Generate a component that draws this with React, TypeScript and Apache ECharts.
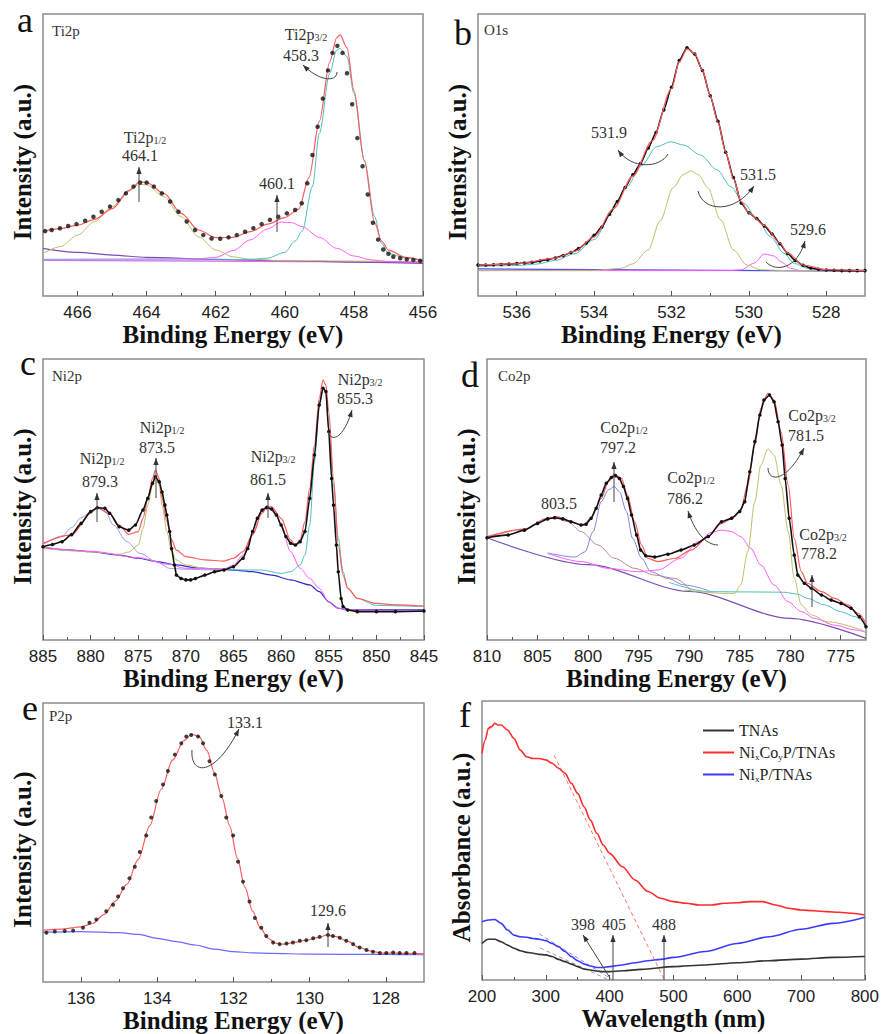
import React, { useEffect, useRef } from "react";
import * as echarts from "echarts";

type P = [number, number];

// ---------- tick values ----------
const aTicks = [456, 458, 460, 462, 464, 466];
const aMinor = [457, 459, 461, 463, 465];
const bTicks = [528, 530, 532, 534, 536];
const bMinor = [529, 531, 533, 535];
const cTicks = [845, 850, 855, 860, 865, 870, 875, 880, 885];
const cMinor = [847.5, 852.5, 857.5, 862.5, 867.5, 872.5, 877.5, 882.5];
const dTicks = [775, 780, 785, 790, 795, 800, 805, 810];
const dMinor = [777.5, 782.5, 787.5, 792.5, 797.5, 802.5, 807.5];
const eTicks = [128, 130, 132, 134, 136];
const eMinor = [129, 131, 133, 135];
const fTicks = [200, 300, 400, 500, 600, 700, 800];
const fMinor = [250, 350, 450, 550, 650, 750];

// ---------- panel a : Ti2p ----------
const aData: P[] = [[466.94,23.0],[466.75,23.4],[466.51,24.0],[466.27,24.8],[466.03,25.5],[465.78,26.7],[465.54,28.1],[465.30,29.9],[465.06,31.7],[464.82,34.0],[464.60,36.4],[464.38,38.8],[464.19,40.2],[464.00,40.2],[463.79,38.8],[463.56,36.4],[463.32,33.5],[463.08,29.9],[462.84,26.4],[462.60,23.4],[462.36,21.6],[462.12,20.4],[461.87,20.3],[461.63,20.8],[461.39,21.6],[461.15,22.8],[460.91,24.0],[460.67,25.5],[460.43,27.0],[460.19,28.1],[459.94,29.3],[459.70,30.5],[459.51,32.9],[459.35,40.0],[459.2,50.0],[459.05,60.0],[458.9,70.0],[458.75,80.0],[458.62,86.2],[458.48,88.7],[458.33,86.2],[458.2,79.0],[458.05,68.0],[457.9,56.0],[457.75,46.0],[457.6,36.0],[457.45,26.0],[457.3,20.0],[457.15,16.5],[457.0,15.0],[456.86,13.9],[456.66,13.4],[456.47,13.0],[456.28,12.8],[456.08,12.5]];
const aFit: P[] = [[467,23.0],[466.5,23.9],[466,25.1],[465.5,27.2],[465,30.9],[464.5,37.4],[464.2,40.5],[464,40.2],[463.5,36.4],[463,29.3],[462.5,23.4],[462,20.7],[461.5,20.8],[461,22.8],[460.5,25.5],[460,27.8],[459.6,30.8],[459.3,42],[459,62],[458.7,83],[458.5,91.5],[458.4,92.6],[458.2,88],[458,73],[457.7,48],[457.4,26],[457.2,19.5],[457,16.3],[456.5,13.7],[456,12.5]];
const aCyan: P[] = [[467,12.8],[462,12.8],[461,13.0],[460.5,13.4],[460,15.5],[459.7,19.5],[459.5,23],[459.2,38.8],[459,57.7],[458.7,79],[458.5,87.2],[458.4,87.8],[458.2,84.9],[458,71.9],[457.7,48.2],[457.4,28.1],[457.2,18.7],[457,15.1],[456.5,13.4],[456,12.5]];
const aOlive: P[] = [[467,15.1],[466.5,17.5],[466,21.6],[465.5,26.4],[465,31.7],[464.5,37.6],[464.2,39.6],[464,39.4],[463.5,35.2],[463,28.1],[462.5,21.0],[462,16.3],[461.5,13.9],[461,13.0],[460,12.5],[456,12.2]];
const aMag: P[] = [[467,13.0],[462.5,13.2],[462,13.7],[461.5,16.1],[461,19.9],[460.5,23.8],[460.1,26.2],[459.8,26.0],[459.5,24.6],[459,20.8],[458.5,16.9],[458,14.2],[457.5,12.8],[457,12.2],[456,11.9]];
const aBg: P[] = [[467,16.9],[466,15.5],[465,14.5],[464,13.7],[462,13.0],[460,12.5],[458,12.0],[456,11.6]];
const aBase: P[] = [[467,12.6],[456,12.0]];

// ---------- panel b : O1s ----------
const bData: P[] = [[537,11.0],[536.8,11.0],[536.6,11.1],[536.4,11.2],[536.2,11.3],[536,11.5],[535.8,11.7],[535.6,12.0],[535.4,12.4],[535.2,12.9],[535,13.5],[534.8,14.3],[534.6,15.4],[534.4,16.8],[534.2,18.8],[534,21.5],[533.8,24.5],[533.6,29.0],[533.4,33.5],[533.2,38.5],[533,43.0],[532.8,47.0],[532.6,52.5],[532.4,58.0],[532.2,66.0],[532,74.0],[531.8,83.5],[531.6,88.0],[531.4,85.8],[531.2,80.0],[531,71.0],[530.8,62.0],[530.6,51.0],[530.4,42.0],[530.2,33.0],[530,29.5],[529.8,27.5],[529.6,24.8],[529.4,22.0],[529.2,18.5],[529,15.1],[528.8,12.6],[528.6,10.9],[528.4,9.9],[528.2,9.5],[528,9.2],[527.8,9.1],[527.6,9.0],[527.4,9.0],[527.2,9.0],[527,9.0]];
const bFit: P[] = [[537,11.0],[536,11.4],[535,13.4],[534.5,15.8],[534,21.0],[533.5,31.0],[533,42.5],[532.5,55.0],[532,73.5],[531.8,83.0],[531.6,87.6],[531.4,86.0],[531.2,80.0],[531,71.0],[530.8,61.5],[530.6,51.0],[530.4,41.5],[530.2,33.5],[530,29.5],[529.6,25.0],[529.2,18.8],[529,15.3],[528.6,11.0],[528,9.3],[527,9.0]];
const bCyan: P[] = [[537,10.5],[536,10.8],[535.5,11.3],[535,12.6],[534.5,15.0],[534,20.0],[533.5,30.8],[533.15,38.8],[532.8,46.0],[532.37,53.0],[532.02,54.7],[531.68,53.5],[531.25,50.0],[530.82,44.7],[530.47,38.8],[530.13,32.9],[529.78,27.0],[529.44,21.0],[529.09,15.1],[528.83,11.6],[528.49,9.8],[528,9.2],[527,9.0]];
const bOlive: P[] = [[537,9.0],[534,9.1],[533.3,9.8],[533,11.4],[532.6,16.3],[532.3,26.5],[531.95,38.5],[531.7,43.0],[531.5,44.4],[531.3,43.0],[531.07,38.5],[530.73,27.0],[530.4,16.3],[530.05,11.0],[529.7,9.3],[529,9.0],[527,9.0]];
const bMag: P[] = [[537,9.0],[530.5,9.0],[530.2,9.3],[529.87,11.6],[529.6,14.9],[529.35,14.2],[529.18,12.2],[528.92,9.8],[528.66,9.0],[527,9.0]];
const bBg: P[] = [[537,9.6],[527,8.8]];

// ---------- panel c : Ni2p ----------
const cData: P[] = [[885,33.2],[884,34.0],[883,35.0],[882,37.5],[881,41.5],[880,45.7],[879.3,47.1],[878.5,46.9],[878,45.1],[877,40.3],[876,39.1],[875.3,40.9],[874.5,46.3],[874,50.4],[873.5,55.8],[873.2,58.1],[872.8,56.3],[872.5,52.7],[872.2,48.0],[872,44.5],[871.7,38.6],[871.5,32.6],[871.2,26.7],[871,23.1],[870.5,21.9],[870,21.4],[869.5,21.4],[869,21.9],[868,23.1],[867,24.3],[866,24.9],[865,26.1],[864,29.1],[863.5,32.6],[863,38.6],[862.5,43.3],[862,46.3],[861.5,47.2],[861,46.6],[860.5,44.5],[860,40.9],[859.5,36.8],[859,34.4],[858.5,33.8],[858,35.0],[857.5,38.6],[857,50.4],[856.5,65.8],[856,83.6],[855.6,89.6],[855.3,88.4],[855,74.2],[854.7,57.5],[854.5,48.0],[854.2,33.8],[854,24.3],[853.7,14.8],[853.5,11.9],[853,10.7],[852,10.1],[850,10.1],[848,10.1],[845,10.3]];
const cFit: P[] = [[885,34.4],[882,37.4],[880,45.1],[879.3,47.1],[878,44.9],[877,40.9],[876,37.6],[875,38.6],[874.5,43.3],[874,50.4],[873.5,57.5],[873.2,60.5],[872.8,57.5],[872.5,50.4],[872,42.1],[871.5,35.6],[871,32.0],[870,29.7],[868,28.5],[866,28.1],[865,29.1],[864,31.4],[863,37.4],[862,45.1],[861.5,47.4],[861,47.4],[860,43.3],[859,35.6],[858.5,33.8],[858,35.6],[857.5,42.1],[857,54.0],[856.5,69.4],[856,86.0],[855.6,92.5],[855.3,90.7],[855,81.3],[854.5,57.5],[854,33.8],[853.5,23.1],[853,18.4],[852,14.8],[850,13.0],[848,12.5],[845,12.1]];
const cOlive: P[] = [[885,32.6],[880,31.4],[877,30.5],[876,31.3],[875,33.8],[874.5,39.7],[874,48.0],[873.5,55.2],[873.2,58.1],[872.8,55.2],[872.5,48.0],[872,38.6],[871.5,31.4],[871,28.5],[870,26.7],[868,25.5],[866,24.9]];
const cLav: P[] = [[885,34.0],[883,37.0],[882,40.0],[881,43.5],[880,45.5],[879.3,46.9],[878.5,46.0],[877.6,40.9],[876.2,35.0],[874.8,30.8],[873.1,27.9],[871.7,25.5],[870,25.2],[868,25.0],[866,24.9]];
const cMag: P[] = [[885,33.0],[880,31.6],[875,29.3],[872,27.0],[870,25.5],[866,25.3],[865,26.7],[864,30.2],[863,37.4],[862,45.7],[861.3,46.9],[860.5,44.5],[860,40.9],[859,31.4],[858,25.5],[857,21.9],[856,18.4],[855,13.6],[854,11.3],[853,10.7],[850,10.5],[845,10.3]];
const cCyan: P[] = [[866,25.0],[862,24.9],[860,23.7],[859,24.3],[858,26.7],[857.5,30.2],[857,40.9],[856.5,63.5],[856,83.6],[855.6,89.6],[855.3,88.4],[855,75.4],[854.5,55.2],[854,36.2],[853.5,24.3],[853,18.4],[852,14.8],[850,12.3],[845,11.9]];
const cBg: P[] = [[885,32.9],[882,32.0],[880,31.4],[877,30.2],[875,29.1],[873,27.9],[871,26.7],[869,25.7],[867,25.3],[865,24.9],[863,24.3],[861,23.1],[859,21.4],[857,19.6],[856,17.2],[855,13.6],[854,11.3],[853,10.7],[845,10.7]];

// ---------- panel d : Co2p ----------
const dData: P[] = [[810,36.4],[807.9,37.4],[806.3,39.1],[805,41.5],[804,43.1],[803.3,43.5],[802.5,43.1],[801.7,42.1],[800.7,40.9],[800.2,41.2],[799.7,43.3],[799.2,46.9],[798.7,51.6],[798.2,55.8],[797.7,57.8],[797.3,58.5],[796.9,57.5],[796.5,54.6],[796.1,50.4],[795.7,44.5],[795.2,37.4],[794.8,32.0],[794.3,30.0],[793.4,29.5],[792.1,30.5],[790.8,32.0],[789.5,33.8],[788.1,36.8],[786.8,42.1],[785.8,43.3],[785,45.7],[784.5,49.2],[784,59.9],[783.5,70.6],[783,80.1],[782.6,85.4],[782.05,87.2],[781.6,84.8],[781.2,77.7],[780.8,69.4],[780.5,57.5],[780.1,43.3],[779.6,30.2],[779.25,23.1],[778.6,20.2],[777.9,18.4],[776.9,16.0],[775.95,14.2],[774.96,13.0],[773.97,11.3],[773.15,8.3],[772.5,4.7]];
const dFit: P[] = [[810,36.8],[806.3,39.5],[804,43.3],[803.1,43.9],[801.7,42.1],[800.5,40.9],[799.7,43.3],[798.7,50.4],[798,56.3],[797.4,59.0],[796.7,57.5],[796.1,51.6],[795.4,42.1],[794.7,33.8],[794.1,29.1],[793.1,27.9],[791.4,29.1],[789.8,32.0],[788.1,36.8],[786.8,41.5],[785.5,43.9],[784.9,46.3],[784.2,55.2],[783.5,69.4],[782.9,82.4],[782.2,87.8],[781.6,85.4],[780.9,74.1],[780.2,55.2],[779.6,36.2],[778.9,24.3],[778.3,20.2],[776.9,17.2],[775.6,14.8],[774.3,12.5],[773.3,9.5],[772.5,5.9]];
const dBrown: P[] = [[810,36.4],[806.3,39.4],[804,43.3],[803.3,43.5],[802,42.1],[800.7,38.6],[799,33.8],[797.4,29.1],[795.4,25.5],[793.4,23.1],[791.4,21.9],[789.8,17.6]];
const dBlue: P[] = [[804,31.0],[801.3,29.5],[800.3,31.4],[799.5,38.6],[798.7,49.2],[798,53.4],[797.4,54.6],[796.9,52.8],[796.2,45.7],[795.6,36.2],[794.7,29.1],[793.8,24.3],[792.1,21.9],[790.5,19.6],[788,17.5]];
const dMag: P[] = [[804,30.8],[800.7,27.9],[798,25.5],[795.1,24.3],[793.1,24.9],[790.8,29.1],[789.1,35.0],[787.8,38.3],[786.8,39.1],[785.8,38.6],[784.9,36.8],[783.9,32.6],[782.9,26.7],[781.6,19.6],[780.2,13.6],[778.9,10.1],[777.6,7.7],[775.6,5.3],[773.6,3.6],[772.5,2.7]];
const dOlive: P[] = [[790.5,17.8],[786.5,16.6],[785.5,16.6],[784.9,19.6],[784.2,31.4],[783.5,49.2],[782.9,62.3],[782.2,68.0],[781.6,65.8],[780.9,55.2],[780.2,38.6],[779.6,21.9],[778.9,12.5],[777.9,8.9],[776.3,6.5],[772.5,3.0]];
const dCyan: P[] = [[792,20.5],[788.1,17.2],[784,17.1],[780.6,17.0],[779.25,16.3],[778.3,14.8],[776.6,12.5],[775,10.1],[773.6,8.3],[772.5,5.3]];
const dBase: P[] = [[810,36.4],[800,26.8],[790,17.3],[780,7.7],[772.5,0.6]];

// ---------- panel e : P2p ----------
const eData: P[] = [[136.91,17.7],[136.69,18.1],[136.43,18.3],[136.21,18.5],[135.95,19.5],[135.78,21.3],[135.60,22.4],[135.34,25.4],[135.16,27.7],[135.03,30.7],[134.90,33.6],[134.73,37.2],[134.59,41.3],[134.46,46.6],[134.29,52.5],[134.16,59.0],[134.03,64.9],[133.85,70.8],[133.72,75.6],[133.54,81.5],[133.37,85.6],[133.24,88.0],[133.11,88.5],[132.93,88.0],[132.80,85.6],[132.63,79.1],[132.49,74.4],[132.32,66.7],[132.19,59.0],[132.01,52.5],[131.88,43.1],[131.75,36.0],[131.58,28.9],[131.44,23.0],[131.27,19.5],[131.14,16.5],[130.96,14.2],[130.79,13.6],[130.61,13.8],[130.44,14.2],[130.26,14.8],[130.09,15.0],[129.91,15.7],[129.74,16.2],[129.52,16.9],[129.39,16.5],[129.21,15.9],[129.04,14.8],[128.86,13.6],[128.69,12.4],[128.51,11.5],[128.34,10.9],[128.16,10.4],[127.99,10.4],[127.81,10.6],[127.64,10.4],[127.46,10.4],[127.25,10.4]];
const eFit: P[] = [[137,18.6],[136.5,19.0],[136,19.8],[135.7,21.0],[135.4,24.2],[135.1,29.0],[134.8,35.0],[134.5,44.0],[134.2,56.0],[133.9,69.0],[133.6,79.5],[133.3,86.5],[133.1,88.8],[132.9,88.0],[132.7,83.0],[132.5,75.0],[132.3,66.0],[132.1,56.0],[131.9,44.5],[131.7,34.0],[131.5,25.5],[131.3,19.5],[131.1,15.8],[130.9,14.0],[130.7,13.6],[130.4,14.2],[130.1,15.0],[129.8,15.9],[129.55,16.8],[129.3,16.3],[129,14.6],[128.7,12.4],[128.4,11.1],[128.1,10.4],[127.5,10.3],[127,10.2]];
const eBg: P[] = [[137,17.9],[136,18.1],[135,17.7],[134.5,17.1],[134,15.7],[133.5,14.5],[133,13.3],[132.5,11.8],[132,10.9],[131.5,10.5],[131,10.3],[130,10.0],[128,9.9],[127,9.8]];

// ---------- panel f : UV-vis ----------
const fTNAs: P[] = [[200,13.1],[210,14.6],[220,14.6],[230,13.7],[240,12.5],[250,11.4],[260,10.5],[270,9.9],[280,9.6],[290,9.2],[300,9.0],[310,8.4],[320,7.4],[330,6.6],[340,5.7],[350,4.8],[360,3.9],[370,3.6],[380,3.2],[390,3.0],[400,3.0],[420,3.3],[450,3.8],[500,4.8],[550,5.4],[600,6.2],[650,6.9],[700,7.5],[750,8.1],[800,8.4]];
const fNiCoP: P[] = [[200,81.2],[205,86.0],[210,90.2],[215,90.8],[220,92.0],[225,91.4],[230,91.4],[240,89.6],[250,86.6],[260,82.4],[270,80.0],[280,79.4],[290,79.4],[300,78.9],[310,77.7],[320,75.9],[330,74.1],[340,70.5],[350,66.9],[360,62.1],[370,57.3],[380,52.6],[390,48.4],[400,45.4],[420,40.6],[440,35.8],[460,31.7],[480,29.3],[500,28.1],[520,27.5],[540,26.9],[560,26.9],[580,27.5],[600,27.7],[620,28.1],[640,28.1],[660,26.9],[680,25.7],[700,25.1],[720,24.8],[740,24.5],[760,24.3],[780,23.9],[800,23.3]];
const fNiP: P[] = [[200,20.9],[210,21.5],[220,21.7],[230,20.3],[240,17.9],[250,16.1],[260,15.5],[270,15.3],[280,14.9],[290,14.6],[300,14.1],[310,13.1],[320,11.9],[330,10.2],[340,8.4],[350,6.9],[360,5.7],[370,5.0],[380,4.5],[390,4.5],[400,4.8],[420,5.4],[440,6.2],[460,6.9],[480,7.4],[500,8.1],[550,10.2],[600,13.1],[650,15.5],[700,18.2],[750,20.3],[800,22.5]];
const fTanRed: P[] = [[313,80.6],[486,0]];
const fTanGray: P[] = [[291,11.5],[399,0]];
const fTanBlue: P[] = [[290,16.5],[405,0]];

// ---------- layout ----------
const PANELS = [
  { left: 43, top: 14, width: 380, height: 282, min: 456, max: 467, inv: true, ticks: aTicks, minor: aMinor, xname: "Binding Energy (eV)", yname: "Intensity (a.u.)", gap: 23 },
  { left: 478, top: 14, width: 387, height: 282, min: 527, max: 537, inv: true, ticks: bTicks, minor: bMinor, xname: "Binding Energy (eV)", yname: "Intensity (a.u.)", gap: 23 },
  { left: 43, top: 359, width: 381, height: 281, min: 845, max: 885, inv: true, ticks: cTicks, minor: cMinor, xname: "Binding Energy (eV)", yname: "Intensity (a.u.)", gap: 21 },
  { left: 487, top: 359, width: 379, height: 281, min: 772.5, max: 810, inv: true, ticks: dTicks, minor: dMinor, xname: "Binding Energy (eV)", yname: "Intensity (a.u.)", gap: 23 },
  { left: 43, top: 703, width: 381, height: 282, min: 127, max: 137, inv: true, ticks: eTicks, minor: eMinor, xname: "Binding Energy (eV)", yname: "Intensity (a.u.)", gap: 23 },
  { left: 482, top: 701, width: 383, height: 279, min: 200, max: 800, inv: false, ticks: fTicks, minor: fMinor, xname: "Wavelength (nm)", yname: "Absorbance (a.u.)", gap: 18 },
];

const SERIF = "Liberation Serif";
const SANS = "Liberation Sans";
const RED = "#ff5a5a";
const CYAN = "#4dbfbf";
const OLIVE = "#bdbd6a";
const MAG = "#ff5cff";
const BLUE = "#4b4bf0";
const LAV = "#9a9ae6";
const BROWN = "#c08a8a";
const PURP = "#7a4fb0";

function ln(name: string, data: P[], g: number, color: string, width = 1, extra: any = {}) {
  return {
    type: "line", name, data, xAxisIndex: g * 2, yAxisIndex: g, showSymbol: false,
    smooth: 0.3, smoothMonotone: "x", silent: true, animation: false,
    lineStyle: { color, width }, itemStyle: { color }, z: 2, ...extra,
  };
}
function dots(name: string, data: P[], g: number, size: number) {
  return {
    type: "scatter", name, data, xAxisIndex: g * 2, yAxisIndex: g, symbol: "circle",
    symbolSize: size, itemStyle: { color: "#111" }, silent: true, z: 6, animation: false,
  };
}
function dotLine(name: string, data: P[], g: number) {
  return {
    type: "line", name, data, xAxisIndex: g * 2, yAxisIndex: g, showSymbol: true, showAllSymbol: true,
    symbol: "circle", symbolSize: 3.5, smooth: 0.2, smoothMonotone: "x", silent: true, animation: false,
    lineStyle: { color: "#111", width: 1.6 }, itemStyle: { color: "#111" }, z: 5,
  };
}

const richSub = { s: { fontSize: 10, fontFamily: SERIF, fill: "#333", verticalAlign: "bottom" } };
function T(x: number, y: number, text: string, size = 16, align = "center") {
  return {
    type: "text", x, y, silent: true, z: 20,
    style: {
      text, fill: "#333", fontSize: size, fontFamily: SERIF,
      align, verticalAlign: "middle", textAlign: align, textVerticalAlign: "middle", rich: richSub,
    },
  };
}
function head(x2: number, y2: number, fx: number, fy: number) {
  const a = Math.atan2(y2 - fy, x2 - fx);
  const L = 7, W = 2.6;
  const bx = x2 - L * Math.cos(a), by = y2 - L * Math.sin(a);
  return {
    type: "polygon", silent: true, z: 20,
    shape: { points: [[x2, y2], [bx + W * Math.sin(a), by - W * Math.cos(a)], [bx - W * Math.sin(a), by + W * Math.cos(a)]] },
    style: { fill: "#333" },
  };
}
function straight(x1: number, y1: number, x2: number, y2: number) {
  return [
    { type: "line", silent: true, z: 20, shape: { x1, y1, x2, y2 }, style: { stroke: "#444", lineWidth: 1 } },
    head(x2, y2, x1, y1),
  ];
}
function curve(x1: number, y1: number, c1x: number, c1y: number, c2x: number, c2y: number, x2: number, y2: number) {
  return [
    { type: "bezierCurve", silent: true, z: 20, shape: { x1, y1, cpx1: c1x, cpy1: c1y, cpx2: c2x, cpy2: c2y, x2, y2 }, style: { stroke: "#444", lineWidth: 1, fill: null } },
    head(x2, y2, c2x, c2y),
  ];
}
function letter(x: number, y: number, t: string) {
  return { type: "text", x, y, silent: true, z: 20, style: { text: t, fill: "#111", fontSize: 36, fontFamily: SERIF, align: "left", verticalAlign: "middle", textAlign: "left", textVerticalAlign: "middle" } };
}

export default function App() {
  const ref = useRef<HTMLDivElement>(null);
  useEffect(() => {
    if (!ref.current) return;
    const chart = echarts.init(ref.current, null, { renderer: "svg" });

    const grid = PANELS.map((p) => ({
      left: p.left, top: p.top, width: p.width, height: p.height, show: true,
      borderColor: "#8c8c8c", borderWidth: 1.5, backgroundColor: "rgba(0,0,0,0)",
    }));
    const xAxis: any[] = [];
    const yAxis: any[] = [];
    PANELS.forEach((p, i) => {
      xAxis.push({
        gridIndex: i, type: "value", min: p.min, max: p.max, inverse: p.inv, position: "bottom",
        axisLine: { show: false }, splitLine: { show: false },
        axisTick: { show: true, inside: true, length: 5, customValues: p.ticks, lineStyle: { color: "#555", width: 1 } },
        axisLabel: { customValues: p.ticks, margin: 8, fontSize: 17, fontFamily: SANS, color: "#222" },
        name: p.xname, nameLocation: "middle", nameGap: p.gap,
        nameTextStyle: { fontFamily: SERIF, fontWeight: "bold", fontSize: 25, color: "#111" },
      });
      xAxis.push({
        gridIndex: i, type: "value", min: p.min, max: p.max, inverse: p.inv, position: "bottom",
        axisLine: { show: false }, splitLine: { show: false }, axisLabel: { show: false },
        axisTick: { show: true, inside: true, length: 3, customValues: p.minor, lineStyle: { color: "#555", width: 1 } },
      });
      yAxis.push({
        gridIndex: i, type: "value", min: 0, max: 100,
        axisLine: { show: false }, axisTick: { show: false }, axisLabel: { show: false }, splitLine: { show: false },
        name: p.yname, nameLocation: "middle", nameGap: 8,
        nameTextStyle: { fontFamily: SERIF, fontWeight: "bold", fontSize: 25, color: "#111", padding: [0, 14, 0, 0] },
      });
    });

    const series: any[] = [
      // a
      ln("a-base", aBase, 0, MAG, 1.2),
      ln("a-bg", aBg, 0, PURP, 1.2),
      ln("a-olive", aOlive, 0, OLIVE),
      ln("a-mag", aMag, 0, MAG),
      ln("a-cyan", aCyan, 0, CYAN),
      ln("a-fit", aFit, 0, RED, 1.2, { z: 4 }),
      dots("a-data", aData, 0, 4.5),
      // b
      ln("b-bg", bBg, 1, BLUE, 1.2),
      ln("b-mag", bMag, 1, MAG),
      ln("b-olive", bOlive, 1, OLIVE),
      ln("b-cyan", bCyan, 1, CYAN),
      dotLine("b-data", bData, 1),
      ln("b-fit", bFit, 1, RED, 1.2, { z: 6 }),
      // c
      ln("c-bg", cBg, 2, "#3030c8", 1.2),
      ln("c-lav", cLav, 2, LAV),
      ln("c-olive", cOlive, 2, OLIVE),
      ln("c-mag", cMag, 2, MAG),
      ln("c-cyan", cCyan, 2, CYAN),
      ln("c-fit", cFit, 2, RED, 1.2, { z: 4 }),
      dotLine("c-data", cData, 2),
      // d
      ln("d-base", dBase, 3, PURP, 1.2),
      ln("d-brown", dBrown, 3, BROWN),
      ln("d-blue", dBlue, 3, "#8080e0"),
      ln("d-mag", dMag, 3, MAG),
      ln("d-cyan", dCyan, 3, CYAN),
      ln("d-olive", dOlive, 3, OLIVE),
      ln("d-fit", dFit, 3, RED, 1.2, { z: 4 }),
      dotLine("d-data", dData, 3),
      // e
      ln("e-bg", eBg, 4, "#6a6aff", 1.2),
      ln("e-fit", eFit, 4, RED, 1.2, { z: 4 }),
      dots("e-data", eData, 4, 4),
      // f
      ln("f-tan-red", fTanRed, 5, "#ff7070", 1, { smooth: false, lineStyle: { color: "#ff7070", width: 1, type: [4, 3] } }),
      ln("f-tan-gray", fTanGray, 5, "#888", 1, { smooth: false, lineStyle: { color: "#999", width: 1, type: [4, 3] } }),
      ln("f-tan-blue", fTanBlue, 5, "#7a7aff", 1, { smooth: false, lineStyle: { color: "#8a8aff", width: 1, type: [4, 3] } }),
      ln("TNAs", fTNAs, 5, "#333333", 1.6, { z: 4 }),
      ln("NixCoyP/TNAs", fNiCoP, 5, "#ff2b2b", 1.6, { z: 4 }),
      ln("NixP/TNAs", fNiP, 5, "#3a3aff", 1.6, { z: 4 }),
    ];

    const graphic: any[] = [
      // a
      letter(17, 20, "a"),
      T(52, 31, "Ti2p", 15, "left"),
      T(306, 34, "Ti2p{s|3/2}"),
      T(301, 55, "458.3"),
      ...curve(337, 72, 337, 82, 320, 82, 303, 65),
      T(145, 137, "Ti2p{s|1/2}"),
      T(140, 155, "464.1"),
      ...straight(139, 202, 139, 167),
      T(277, 183, "460.1"),
      ...straight(277, 232, 277, 195),
      // b
      letter(454, 33, "b"),
      T(484, 30, "O1s", 15, "left"),
      T(609, 132, "531.9"),
      ...curve(668, 154, 660, 168, 632, 170, 618, 150),
      T(758, 174, "531.5"),
      ...curve(698, 191, 703, 212, 735, 214, 754, 186),
      T(808, 229, "529.6"),
      ...curve(766, 262, 775, 272, 797, 270, 805, 241),
      // c
      letter(20, 363, "c"),
      T(52, 376, "Ni2p", 15, "left"),
      T(102, 458, "Ni2p{s|1/2}"),
      T(100, 481, "879.3"),
      ...straight(97, 522, 97, 493),
      T(162, 427, "Ni2p{s|1/2}"),
      T(157, 447, "873.5"),
      ...straight(156, 498, 156, 458),
      T(273, 456, "Ni2p{s|3/2}"),
      T(268, 479, "861.5"),
      ...straight(268, 518, 268, 493),
      T(360, 379, "Ni2p{s|3/2}"),
      T(355, 398, "855.3"),
      ...curve(328, 431, 330, 442, 343, 441, 352, 410),
      // d
      letter(461, 375, "d"),
      T(498, 376, "Co2p", 15, "left"),
      T(624, 427, "Co2p{s|1/2}"),
      T(618, 447, "797.2"),
      ...straight(614, 502, 614, 462),
      T(559, 503, "803.5"),
      T(691, 477, "Co2p{s|1/2}"),
      T(685, 498, "786.2"),
      ...curve(718, 545, 705, 545, 694, 530, 688, 511),
      T(812, 415, "Co2p{s|3/2}"),
      T(806, 435, "781.5"),
      ...curve(768, 468, 768, 482, 786, 483, 804, 448),
      T(823, 534, "Co2p{s|3/2}"),
      T(819, 553, "778.2"),
      ...straight(812, 607, 812, 575),
      // e
      letter(22, 708, "e"),
      T(49, 716, "P2p", 15, "left"),
      T(245, 722, "133.1"),
      ...curve(192, 750, 190, 776, 215, 777, 239, 729),
      T(328, 910, "129.6"),
      ...straight(328, 947, 328, 923),
      // f
      letter(459, 715, "f"),
      T(583, 924, "398"),
      ...straight(610, 978, 583, 935),
      T(614, 924, "405"),
      ...straight(613, 980, 613, 935),
      T(664, 924, "488"),
      ...straight(664, 980, 664, 935),
    ];

    chart.setOption({
      animation: false,
      backgroundColor: "#ffffff",
      textStyle: { fontFamily: SERIF },
      grid, xAxis, yAxis, series, graphic,
      legend: {
        data: ["TNAs", "NixCoyP/TNAs", "NixP/TNAs"],
        orient: "vertical", left: 698, top: 717, itemWidth: 31, itemHeight: 2, icon: "rect",
        itemGap: 5, selectedMode: false,
        formatter: (n: string) =>
          n === "NixCoyP/TNAs" ? "Ni{s|x}Co{s|y}P/TNAs" : n === "NixP/TNAs" ? "Ni{s|x}P/TNAs" : n,
        textStyle: {
          fontFamily: SERIF, fontSize: 16, color: "#222", lineHeight: 17,
          rich: { s: { fontSize: 9, fontFamily: SERIF, color: "#222", verticalAlign: "bottom", lineHeight: 17 } },
        },
      },
    });
    return () => chart.dispose();
  }, []);
  return (
    <div
      ref={ref}
      style={{ position: "fixed", left: 0, top: 0, width: 882, height: 1034, background: "#fff" }}
    />
  );
}
